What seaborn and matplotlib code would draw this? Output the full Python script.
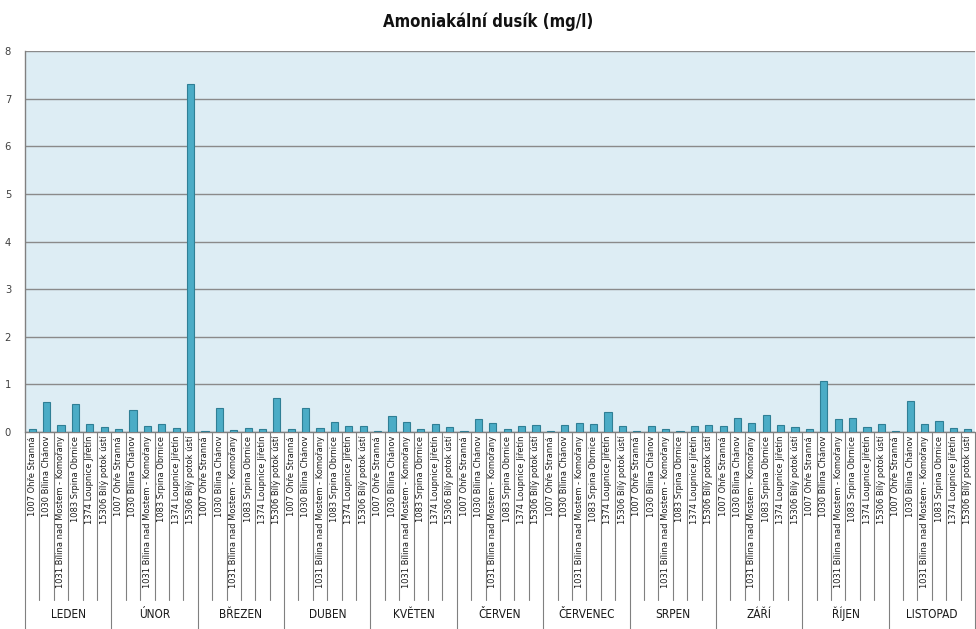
import matplotlib
matplotlib.use("Agg")
import matplotlib.pyplot as plt
import matplotlib.transforms as mtransforms
import seaborn as sns
import pandas as pd
import numpy as np

months = ["LEDEN", "ÚNOR", "BŘEZEN", "DUBEN", "KVĚTEN", "ČERVEN",
          "ČERVENEC", "SRPEN", "ZÁŘÍ", "ŘÍJEN", "LISTOPAD"]
stations = ["1007 Ohře Stranná", "1030 Bílina Chánov",
            "1031 Bílina nad Mostem - Komořany", "1083 Srpina Obrnice",
            "1374 Loupnice Jiřetín", "15306 Bílý potok ústí"]

# values per station across months (mg/l)
s1007 = [0.06, 0.06, 0.03, 0.06, 0.02, 0.03, 0.03, 0.03, 0.12, 0.06, 0.03]
s1030 = [0.63, 0.46, 0.50, 0.50, 0.33, 0.27, 0.14, 0.12, 0.29, 1.08, 0.66]
s1031 = [0.14, 0.12, 0.04, 0.08, 0.20, 0.18, 0.18, 0.06, 0.18, 0.27, 0.16]
s1083 = [0.59, 0.16, 0.08, 0.21, 0.06, 0.06, 0.16, 0.03, 0.35, 0.29, 0.24]
s1374 = [0.16, 0.08, 0.06, 0.12, 0.16, 0.12, 0.41, 0.12, 0.14, 0.10, 0.08]
s15306 = [0.10, 7.30, 0.71, 0.12, 0.10, 0.14, 0.13, 0.14, 0.10, 0.16, 0.06]

series = [s1007, s1030, s1031, s1083, s1374, s15306]
rows = []
for mi, m in enumerate(months):
    for si, st in enumerate(stations):
        rows.append({"key": f"{mi:02d}_{si}", "month": m, "station": st,
                     "value": series[si][mi]})
df = pd.DataFrame(rows)

sns.set_style("white")
plt.rcParams["font.family"] = ["DejaVu Sans"]

W, H = 976, 629
fig = plt.figure(figsize=(W / 100, H / 100), dpi=100)
left, right, top, bottom = 25, 975, 51, 432
ax = fig.add_axes([left / W, 1 - bottom / H, (right - left) / W, (bottom - top) / H])
ax.set_facecolor("#ddedf4")

sns.barplot(data=df, x="key", y="value", ax=ax, color="#4bacc6",
            saturation=1, width=0.5, edgecolor="#2f7f95", linewidth=0.8, zorder=3)

n = len(df)
ax.set_xlim(-0.5, n - 0.5)
ax.set_ylim(0, 8)
ax.set_yticks(range(0, 9))
ax.set_yticklabels([str(v) for v in range(0, 9)], fontsize=8, color="#404040",
                   fontstretch="condensed")
ax.tick_params(axis="y", length=4, width=0.8, color="#808080", pad=6)
ax.set_xticks([])
ax.set_xlabel("")
ax.set_ylabel("")
ax.yaxis.grid(True, color="#8a8a8a", linewidth=1.0, zorder=1)
ax.set_axisbelow(True)
for sp in ["top", "right", "bottom"]:
    ax.spines[sp].set_visible(False)
ax.spines["left"].set_color("#808080")
ax.spines["left"].set_linewidth(1.0)

trans = mtransforms.blended_transform_factory(ax.transData, ax.transAxes)
ph = bottom - top
y_st = -(600 - bottom) / ph
y_mo = -(629 - bottom) / ph
for i in range(n + 1):
    is_month = (i % len(stations) == 0)
    ax.plot([i - 0.5, i - 0.5], [0, y_mo if is_month else y_st], transform=trans,
            color="#808080", linewidth=0.8, clip_on=False)
ax.plot([-0.5, n - 0.5], [0, 0], transform=trans, color="#808080",
        linewidth=1.0, clip_on=False)

for i, st in enumerate(df["station"]):
    ax.text(i, -4 / ph, st, transform=trans, rotation=90, ha="center", va="top",
            fontsize=6.7, fontstretch="condensed", color="#1a1a1a", clip_on=False)

y_month_lbl = -(614 - bottom) / ph
for mi, m in enumerate(months):
    c = mi * len(stations) + (len(stations) - 1) / 2
    ax.text(c, y_month_lbl, m, transform=trans, ha="center", va="center",
            fontsize=8.5, fontstretch="condensed", color="#1a1a1a", clip_on=False)

fig.text(488 / W, 1 - 22 / H, "Amoniakální dusík (mg/l)",
         ha="center", va="center", fontsize=12, fontweight="bold",
         fontstretch="condensed", color="#111111")

fig.savefig("out.png", dpi=100)
